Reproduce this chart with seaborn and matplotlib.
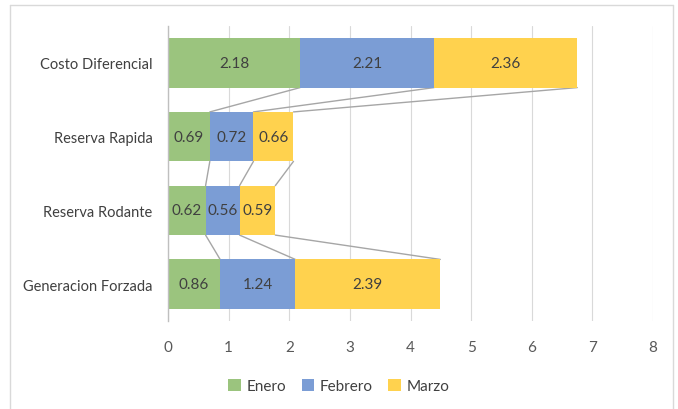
import numpy as np
import pandas as pd
import matplotlib
matplotlib.use("Agg")
import matplotlib.pyplot as plt
import seaborn as sns
from matplotlib.lines import Line2D
from matplotlib.patches import Patch

categories = ["Costo Diferencial", "Reserva Rapida", "Reserva Rodante", "Generacion Forzada"]
months = ["Enero", "Febrero", "Marzo"]
enero = [2.18, 0.69, 0.62, 0.86]
febrero = [2.21, 0.72, 0.56, 1.24]
marzo = [2.36, 0.66, 0.59, 2.39]
x_ticks = [0, 1, 2, 3, 4, 5, 6, 7, 8]

colors = {"Enero": "#9BC47E", "Febrero": "#7B9DD5", "Marzo": "#FFD24E"}
text_dark = "#404040"
tick_gray = "#595959"

sns.set_theme(style="white")
plt.rcParams["font.family"] = ["Lato", "DejaVu Sans"]

df = pd.DataFrame({"Categoria": categories, "Enero": enero,
                   "Febrero": febrero, "Marzo": marzo})

fig = plt.figure(figsize=(6.78, 4.10), dpi=100)
ax = fig.add_axes([168 / 678, 1 - 322 / 410, (653 - 168) / 678, (322 - 27) / 410])

bar_h = 0.67
# stacked: each series drawn as its cumulative total, earlier series on top
left = np.zeros(len(categories))
lefts = {}
for k, m in enumerate(months):
    sns.barplot(x=df[m] + left, y=df["Categoria"], color=colors[m], orient="h",
                width=bar_h, ax=ax, zorder=3 - k * 0.1,
                edgecolor="none", saturation=1)
    lefts[m] = left.copy()
    left = left + df[m].values

for m in months:
    for i, v in enumerate(df[m]):
        ax.text(lefts[m][i] + v / 2, i, f"{v:.2f}", ha="center", va="center",
                fontsize=11, color=text_dark, zorder=5)

# series lines between adjacent bars
cum = np.cumsum(df[months].values, axis=1)
for i in range(len(categories) - 1):
    for j in range(len(months)):
        ax.add_line(Line2D([cum[i, j], cum[i + 1, j]],
                           [i + bar_h / 2, i + 1 - bar_h / 2],
                           color="#A6A6A6", lw=1, zorder=2))

ax.set_xlim(0, 8)
ax.set_ylim(3.5, -0.5)
ax.set_xticks(x_ticks)
ax.set_xticklabels([str(t) for t in x_ticks])
ax.grid(axis="x", color="#D9D9D9", lw=0.8, zorder=0)
ax.set_axisbelow(True)
for s in ["top", "right", "bottom"]:
    ax.spines[s].set_visible(False)
ax.spines["left"].set_color("#BFBFBF")
ax.spines["left"].set_linewidth(1)
ax.spines["left"].set_zorder(4)
ax.tick_params(axis="x", length=0, pad=14, labelsize=11, labelcolor=tick_gray)
ax.tick_params(axis="y", length=0, pad=11, labelsize=10.5, labelcolor=text_dark)
ax.set_xlabel("")
ax.set_ylabel("")

handles = [Patch(facecolor=colors[m], edgecolor="none") for m in months]
fig.legend(handles, months, loc="center", bbox_to_anchor=(0.5, 1 - 387 / 410),
           ncol=3, frameon=False, fontsize=11, handlelength=0.8, handleheight=0.8,
           handletextpad=0.4, columnspacing=1.0, labelcolor=text_dark)

# chart area border
for xs, ys in [([10, 10], [0, 404]), ([10, 673], [404, 404]), ([673, 673], [404, 0])]:
    fig.add_artist(Line2D([x / 678 for x in xs], [y / 410 for y in ys],
                          color="#D9D9D9", lw=1, transform=fig.transFigure))

fig.savefig("out.png", dpi=100)
